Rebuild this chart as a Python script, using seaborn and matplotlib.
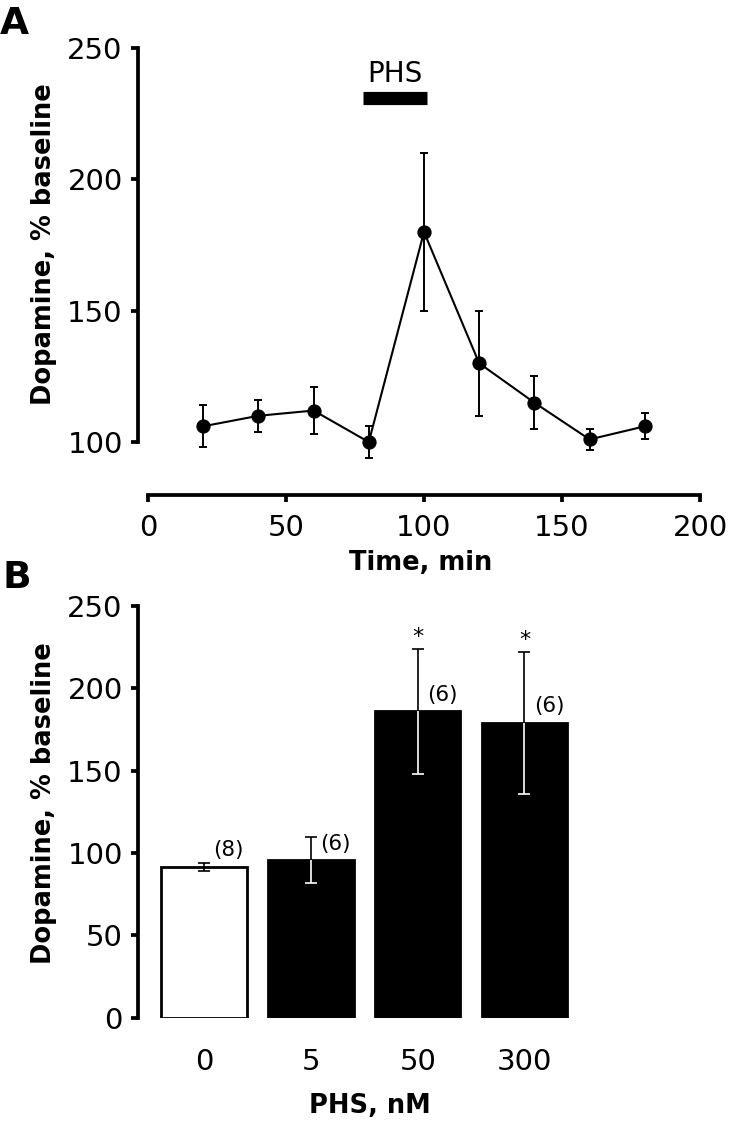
import numpy as np
import pandas as pd
import matplotlib
matplotlib.use('Agg')
import matplotlib.pyplot as plt
import seaborn as sns

# Panel A: dopamine time course (mean +/- SEM)
time_min = [20, 40, 60, 80, 100, 120, 140, 160, 180]
dopamine_mean = [106, 110, 112, 100, 180, 130, 115, 101, 106]
dopamine_sem = [8, 6, 9, 6, 30, 20, 10, 4, 5]
phs_start, phs_end = 78, 101

# Panel B: dose response
phs_dose = ['0', '5', '50', '300']
dose_mean = [91.5, 95.5, 186, 179]
dose_sem = [2.5, 14, 38, 43]
n_animals = [8, 6, 6, 6]
significant = [False, False, True, True]
bar_colors = ['white', 'black', 'black', 'black']

sns.set_style('ticks')
plt.rcParams['font.family'] = ['DejaVu Sans']
for key in ['text.color', 'axes.labelcolor', 'xtick.color', 'ytick.color', 'axes.edgecolor']:
    plt.rcParams[key] = 'black'

fig = plt.figure(figsize=(7.3, 11.22), dpi=100)
axA = fig.add_axes([0.189, 0.5592, 0.7737, 0.3979])
axB = fig.add_axes([0.189, 0.0930, 0.7737, 0.3670])

spine_w = 2.7

# ---- Panel A ----
dfA = pd.DataFrame({'time': time_min, 'dopamine': dopamine_mean})
axA.errorbar(time_min, dopamine_mean, yerr=dopamine_sem, fmt='none',
             ecolor='black', elinewidth=1.4, capsize=3, capthick=1.4, zorder=2)
sns.lineplot(data=dfA, x='time', y='dopamine', ax=axA, color='black',
             marker='o', markersize=9.5, markeredgecolor='black',
             linewidth=1.5, zorder=3)
axA.hlines(231, phs_start, phs_end, color='black', linewidth=9.5)
axA.text((phs_start + phs_end) / 2, 240, 'PHS', ha='center', va='center', fontsize=20)

axA.set_xlim(-3.62, 201)
axA.set_ylim(80, 250)
axA.set_xticks([0, 50, 100, 150, 200])
axA.set_yticks([100, 150, 200, 250])
sns.despine(ax=axA)
axA.spines['left'].set_bounds(100, 250)
axA.spines['bottom'].set_bounds(0, 200)
for s in ['left', 'bottom']:
    axA.spines[s].set_linewidth(spine_w)
axA.tick_params(axis='both', direction='out', length=5, width=spine_w, labelsize=21)
axA.tick_params(axis='x', pad=9)
axA.tick_params(axis='y', pad=6)
axA.set_xlabel('Time, min', fontsize=18.5, fontweight='bold', labelpad=6)
axA.set_ylabel('Dopamine, % baseline', fontsize=18.5, fontweight='bold', labelpad=7, y=0.56)

# ---- Panel B ----
dfB = pd.DataFrame({'dose': phs_dose, 'dopamine': dose_mean})
sns.barplot(data=dfB, x='dose', y='dopamine', hue='dose', palette=bar_colors,
            legend=False, ax=axB, edgecolor='black', linewidth=2, width=0.8,
            errorbar=None)
for i, (m, e) in enumerate(zip(dose_mean, dose_sem)):
    # part above the bar in black, part inside the bar in contrast colour
    inner = 'black' if bar_colors[i] == 'white' else 'white'
    for err, col, keep in [([[0], [e]], 'black', 1), ([[e], [0]], inner, 0)]:
        _, caps, _ = axB.errorbar(i, m, yerr=err, fmt='none', ecolor=col,
                                  elinewidth=1.2, capsize=4, capthick=1.2, zorder=4)
        caps[1 - keep].set_visible(False)
    axB.text(i + 0.23, m + 10, f'({n_animals[i]})', ha='center', va='center', fontsize=15.5)
    if significant[i]:
        axB.text(i, m + e + 7, '*', ha='center', va='center', fontsize=16)

axB.set_xlim(-0.62, 4.67)
axB.set_ylim(0, 250)
axB.set_yticks([0, 50, 100, 150, 200, 250])
sns.despine(ax=axB, bottom=True)
axB.spines['left'].set_linewidth(spine_w)
axB.tick_params(axis='y', direction='out', length=5, width=spine_w, labelsize=21, pad=6)
axB.tick_params(axis='x', length=0, labelsize=21, pad=22)
axB.set_xlabel('PHS, nM', fontsize=18.5, fontweight='bold', labelpad=12, x=0.41)
axB.set_ylabel('Dopamine, % baseline', fontsize=18.5, fontweight='bold', labelpad=7, y=0.52)

fig.text(0.0, 1 - 6 / 1122, 'A', fontsize=27, fontweight='bold', va='top', ha='left')
fig.text(0.003, 1 - 560 / 1122, 'B', fontsize=27, fontweight='bold', va='top', ha='left')

fig.savefig('out.png', dpi=100)
